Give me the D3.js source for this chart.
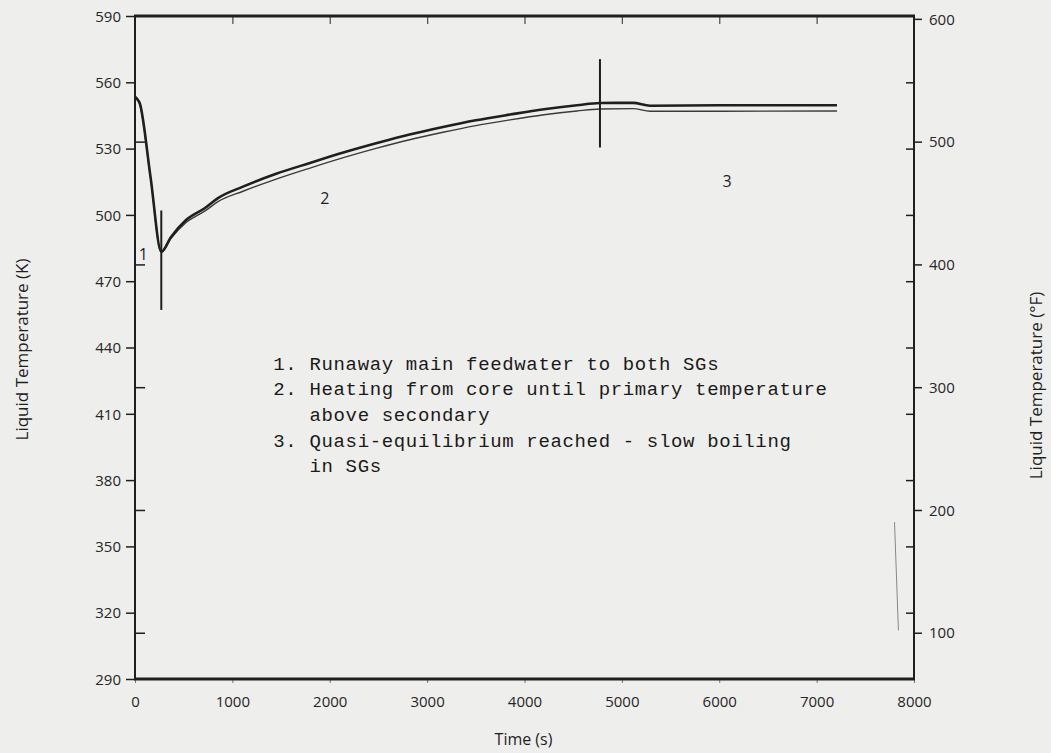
<!DOCTYPE html>
<html>
<head>
<meta charset="utf-8">
<script src="https://cdn.jsdelivr.net/npm/d3@7"></script>
<style>
  html, body { margin: 0; padding: 0; background: #eeeeec; }
  svg { display: block; }
  .tick text { font-family: "Open Sans", sans-serif; font-size: 15px; fill: #262626; }
</style>
</head>
<body>
<svg id="chart" width="1051" height="753"></svg>
<script>
// Time (s) and liquid temperature (K) for the two loop traces
const timeS = [0, 20, 48, 160, 270, 370, 524, 719, 852, 1109, 1450, 1797, 2140, 2485, 2820, 3163, 3500, 3851, 4200, 4539, 4775, 5114, 5289, 6000, 7209];
const tempUpperK = [553.5, 552.6, 550.6, 517.0, 483.3, 490.0, 497.7, 503.1, 507.6, 512.8, 518.6, 523.5, 528.2, 532.5, 536.4, 539.8, 542.8, 545.4, 547.8, 549.6, 550.6, 550.7, 549.4, 549.6, 549.6];
const tempLowerK = [553.0, 552.2, 550.2, 516.7, 483.0, 489.4, 496.6, 501.8, 506.0, 510.7, 516.2, 521.2, 525.9, 530.2, 534.0, 537.4, 540.4, 543.0, 545.3, 547.0, 547.9, 548.1, 546.9, 546.9, 547.0];

// Phase boundary markers: time and temperature span (K)
const markerTime = [270, 4775];
const markerTop = [502, 570.5];
const markerBottom = [457, 530.5];

// Phase numbers placed on the plot
const phaseLabels = ["1", "2", "3"];
const phaseTime = [85, 1950, 6080];
const phaseTemp = [479.5, 505, 512.5];

// Axis ticks
const timeTicks = [0, 1000, 2000, 3000, 4000, 5000, 6000, 7000, 8000];
const kelvinTicks = [290, 320, 350, 380, 410, 440, 470, 500, 530, 560, 590];
const fahrenheitTicks = [100, 200, 300, 400, 500, 600];

// Typed notes inside the plot
const notes = [
  "1. Runaway main feedwater to both SGs",
  "2. Heating from core until primary temperature",
  "   above secondary",
  "3. Quasi-equilibrium reached - slow boiling",
  "   in SGs"
];
const noteTime = 1420;
const noteTempTop = 430;

// Stray pencil stroke near the right axis
const strokeTime = [7800, 7840];
const strokeTemp = [361, 312];

const ink = "#1f1f1f";
const svg = d3.select("#chart");
const m = { left: 135, right: 914, top: 16, bottom: 679 };

const x = d3.scaleLinear().domain([0, 8000]).range([m.left, m.right]);
const yK = d3.scaleLinear().domain([290, 590]).range([m.bottom, m.top]);
const k2f = k => (k - 273.15) * 1.8 + 32;
const yF = d3.scaleLinear().domain([k2f(290), k2f(590)]).range([m.bottom, m.top]);

// Left axis (K): outward ticks with labels
svg.append("g")
  .attr("transform", `translate(${m.left},0)`)
  .call(d3.axisLeft(yK).tickValues(kelvinTicks).tickSize(9).tickPadding(5).tickFormat(d3.format("d")))
  .call(g => g.select(".domain").remove())
  .call(g => g.selectAll(".tick line").attr("stroke", ink).attr("stroke-width", 1.5))
  .call(g => g.selectAll(".tick text").attr("dy", "0.35em"));

// Left axis: inward ticks at the °F graduations
svg.append("g")
  .attr("transform", `translate(${m.left},0)`)
  .call(d3.axisRight(yF).tickValues(fahrenheitTicks.slice(0, 5)).tickSize(10).tickFormat(""))
  .call(g => g.select(".domain").remove())
  .call(g => g.selectAll(".tick line").attr("stroke", ink).attr("stroke-width", 1.5));

// Right axis (°F): outward ticks with labels
svg.append("g")
  .attr("transform", `translate(${m.right},0)`)
  .call(d3.axisRight(yF).tickValues(fahrenheitTicks).tickSize(8).tickPadding(7).tickFormat(d3.format("d")))
  .call(g => g.select(".domain").remove())
  .call(g => g.selectAll(".tick line").attr("stroke", ink).attr("stroke-width", 1.5))
  .call(g => g.selectAll(".tick text").attr("dy", "0.35em"));

// Right axis: inward ticks at the K graduations
svg.append("g")
  .attr("transform", `translate(${m.right},0)`)
  .call(d3.axisLeft(yK).tickValues(kelvinTicks.slice(1, -1)).tickSize(8).tickFormat(""))
  .call(g => g.select(".domain").remove())
  .call(g => g.selectAll(".tick line").attr("stroke", ink).attr("stroke-width", 1.5));

// Bottom axis (time)
svg.append("g")
  .attr("transform", `translate(0,${m.bottom})`)
  .call(d3.axisBottom(x).tickValues(timeTicks).tickSize(4).tickPadding(13).tickFormat(d3.format("d")))
  .call(g => g.select(".domain").remove())
  .call(g => g.selectAll(".tick line").attr("stroke", "#777").attr("stroke-width", 1));

// Top axis: inward ticks only
svg.append("g")
  .attr("transform", `translate(0,${m.top})`)
  .call(d3.axisBottom(x).tickValues(timeTicks.slice(1, -1)).tickSize(8).tickFormat(""))
  .call(g => g.select(".domain").remove())
  .call(g => g.selectAll(".tick line").attr("stroke", "#555").attr("stroke-width", 1.3));

// Frame
svg.append("line").attr("x1", m.left - 1).attr("x2", m.right + 1).attr("y1", m.top).attr("y2", m.top)
  .attr("stroke", ink).attr("stroke-width", 3);
svg.append("line").attr("x1", m.left - 1).attr("x2", m.right + 1).attr("y1", m.bottom).attr("y2", m.bottom)
  .attr("stroke", ink).attr("stroke-width", 3);
svg.append("line").attr("x1", m.left).attr("x2", m.left).attr("y1", m.top).attr("y2", m.bottom)
  .attr("stroke", ink).attr("stroke-width", 2);
svg.append("line").attr("x1", m.right).attr("x2", m.right).attr("y1", m.top).attr("y2", m.bottom)
  .attr("stroke", ink).attr("stroke-width", 2);

// Temperature traces
const trace = d3.line().x((d, i) => x(timeS[i])).y(d => yK(d)).curve(d3.curveMonotoneX);
svg.append("path").datum(tempLowerK).attr("d", trace)
  .attr("fill", "none").attr("stroke", "#3a3a3a").attr("stroke-width", 1.4);
svg.append("path").datum(tempUpperK).attr("d", trace)
  .attr("fill", "none").attr("stroke", ink).attr("stroke-width", 2.6);

// Phase boundary markers
markerTime.forEach((t, i) => {
  svg.append("line")
    .attr("x1", x(t)).attr("x2", x(t))
    .attr("y1", yK(markerTop[i])).attr("y2", yK(markerBottom[i]))
    .attr("stroke", ink).attr("stroke-width", 2);
});

// Phase numbers
phaseLabels.forEach((s, i) => {
  svg.append("text")
    .attr("x", x(phaseTime[i])).attr("y", yK(phaseTemp[i]))
    .attr("text-anchor", "middle")
    .attr("font-family", "Open Sans, sans-serif").attr("font-size", 16)
    .attr("fill", ink).text(s);
});

// Typed notes
const noteG = svg.append("g")
  .attr("font-family", "Liberation Mono, Courier New, monospace")
  .attr("font-size", 19).attr("fill", "#1a1a1a")
  .attr("letter-spacing", 0.65);
notes.forEach((s, i) => {
  noteG.append("text")
    .attr("x", x(noteTime))
    .attr("y", yK(noteTempTop) + i * 25.7)
    .attr("xml:space", "preserve")
    .style("white-space", "pre")
    .text(s);
});

// Faint pencil stroke
svg.append("line")
  .attr("x1", x(strokeTime[0])).attr("x2", x(strokeTime[1]))
  .attr("y1", yK(strokeTemp[0])).attr("y2", yK(strokeTemp[1]))
  .attr("stroke", "#888").attr("stroke-width", 1);

// Axis titles
svg.append("text")
  .attr("transform", `translate(28,${(m.top + m.bottom) / 2 + 2}) rotate(-90)`)
  .attr("text-anchor", "middle")
  .attr("font-family", "Open Sans, sans-serif").attr("font-size", 17).attr("fill", ink)
  .text("Liquid Temperature (K)");
svg.append("text")
  .attr("transform", `translate(1042,${(m.top + m.bottom) / 2 + 38}) rotate(-90)`)
  .attr("text-anchor", "middle")
  .attr("font-family", "Open Sans, sans-serif").attr("font-size", 17).attr("fill", ink)
  .text("Liquid Temperature (°F)");
svg.append("text")
  .attr("x", (m.left + m.right) / 2 - 1).attr("y", 745)
  .attr("text-anchor", "middle")
  .attr("font-family", "Open Sans, sans-serif").attr("font-size", 16).attr("fill", ink)
  .text("Time (s)");
</script>
</body>
</html>
